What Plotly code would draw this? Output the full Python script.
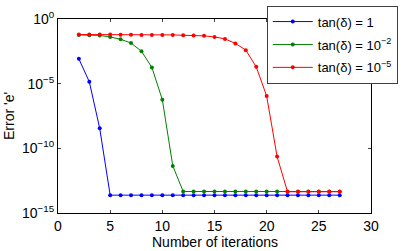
import plotly.graph_objects as go

iters_blue = list(range(2, 28))
err_blue = [8.3e-4, 1.4e-5, 3.5e-9] + [2.4e-14] * 23

iters_green = list(range(2, 28))
err_green = [0.059, 0.056, 0.054, 0.041, 0.027, 0.014, 3.2e-3, 1.8e-4, 5.7e-7,
             4.4e-12] + [4.6e-14] * 16

iters_red = list(range(2, 28))
err_red = [0.063, 0.063, 0.062, 0.062, 0.061, 0.060, 0.059, 0.059, 0.059, 0.059,
           0.055, 0.053, 0.050, 0.041, 0.029, 0.013, 3.9e-3, 2.0e-4, 1.1e-6,
           2.3e-11, 4.4e-14, 4.4e-14, 4.4e-14, 4.4e-14, 4.4e-14, 4.4e-14]

names = ["tan(δ) = 1", "tan(δ) = 10<sup>−2</sup>", "tan(δ) = 10<sup>−5</sup>"]
colors = ["#0000ff", "#008000", "#ff0000"]

ytick_vals = [1, 1e-5, 1e-10, 1e-15]
ytick_text = ["10<sup>0</sup>", "10<sup>−5</sup>", "10<sup>−10</sup>", "10<sup>−15</sup>"]
xtick_vals = [0, 5, 10, 15, 20, 25, 30]
x_title = "Number of iterations"
y_title = "Error 'e'"

fig = go.Figure()
for i, (xs, ys, nm, c) in enumerate([(iters_blue, err_blue, names[0], colors[0]),
                                     (iters_green, err_green, names[1], colors[1]),
                                     (iters_red, err_red, names[2], colors[2])]):
    fig.add_trace(go.Scatter(x=xs, y=ys, name=nm, mode="lines+markers",
                             legendgroup=f"g{i}",
                             line=dict(color=c, width=1),
                             marker=dict(color=c, size=4)))

fig.update_layout(
    width=409, height=251,
    margin=dict(l=58, r=38, t=19, b=38, autoexpand=False),
    paper_bgcolor="white", plot_bgcolor="white",
    font=dict(family="Liberation Sans, Arial, sans-serif", size=14, color="black"),
    showlegend=True,
    legend=dict(x=0.667, y=1.069, xanchor="left", yanchor="top",
                bordercolor="#404040", borderwidth=1, bgcolor="white",
                font=dict(size=13), itemwidth=40, tracegroupgap=3),
    xaxis=dict(range=[0, 30], tickvals=xtick_vals, ticks="inside", ticklen=3,
               showline=True, linecolor="black", linewidth=1, mirror="ticks",
               showgrid=False, zeroline=False, automargin=False),
    yaxis=dict(type="log", range=[-15, 0], tickvals=ytick_vals, ticktext=ytick_text,
               ticks="inside", ticklen=3, showline=True, linecolor="black", linewidth=1,
               mirror="ticks", showgrid=False, zeroline=False, automargin=False),
    annotations=[
        dict(text=x_title, xref="paper", yref="paper", x=0.5, y=0, yshift=-29,
             xanchor="center", yanchor="middle", showarrow=False, font=dict(size=14)),
        dict(text=y_title, xref="paper", yref="paper", x=0, y=0.5, xshift=-49,
             xanchor="center", yanchor="middle", textangle=-90, showarrow=False,
             font=dict(size=14)),
    ],
)

fig.write_html("out.html", config={"displayModeBar": False},
               post_script="document.body.style.margin='0';document.body.style.overflow='hidden';")
